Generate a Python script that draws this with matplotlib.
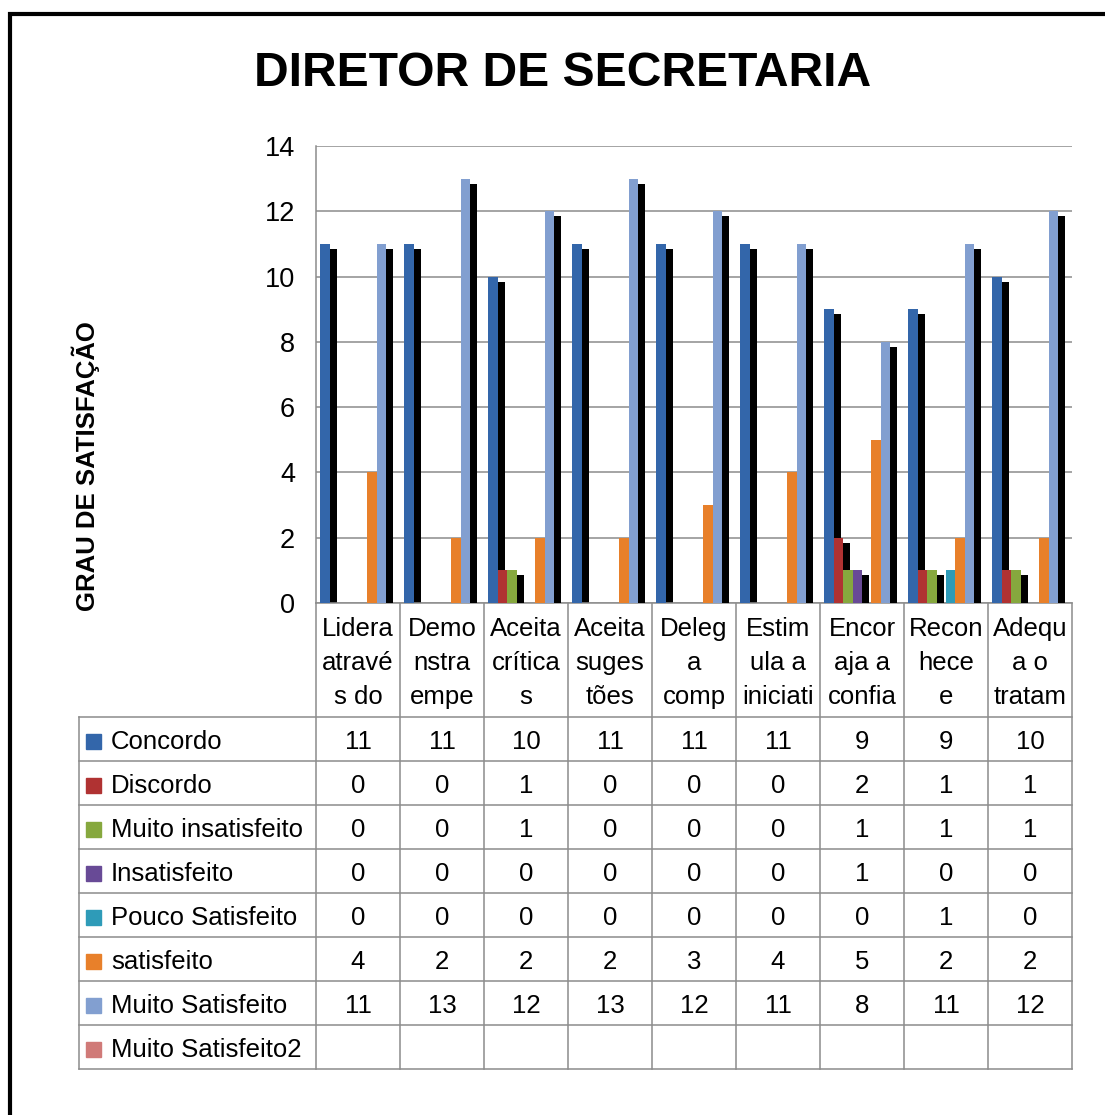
import matplotlib
matplotlib.use('Agg')
import matplotlib.pyplot as plt
from matplotlib.transforms import ScaledTranslation

plt.rcParams['font.family'] = ['Liberation Sans', 'DejaVu Sans']

# dados do grafico
categorias = ['Lidera\natravé\ns do', 'Demo\nnstra\nempe', 'Aceita\ncrítica\ns',
              'Aceita\nsuges\ntões', 'Deleg\na\ncomp', 'Estim\nula a\niniciati',
              'Encor\naja a\nconfia', 'Recon\nhece\ne', 'Adequ\na o\ntratam']
series = ['Concordo', 'Discordo', 'Muito insatisfeito', 'Insatisfeito',
          'Pouco Satisfeito', 'satisfeito', 'Muito Satisfeito', 'Muito Satisfeito2']
concordo = [11, 11, 10, 11, 11, 11, 9, 9, 10]
discordo = [0, 0, 1, 0, 0, 0, 2, 1, 1]
muito_insatisfeito = [0, 0, 1, 0, 0, 0, 1, 1, 1]
insatisfeito = [0, 0, 0, 0, 0, 0, 1, 0, 0]
pouco_satisfeito = [0, 0, 0, 0, 0, 0, 0, 1, 0]
satisfeito = [4, 2, 2, 2, 3, 4, 5, 2, 2]
muito_satisfeito = [11, 13, 12, 13, 12, 11, 8, 11, 12]
muito_satisfeito2 = [None] * 9
valores = [concordo, discordo, muito_insatisfeito, insatisfeito,
           pouco_satisfeito, satisfeito, muito_satisfeito, muito_satisfeito2]
cores = ['#3366aa', '#b03232', '#86a83e', '#684a96', '#2e9bb8', '#e8802a',
         '#829fd0', '#d07a78']
yticks = [0, 2, 4, 6, 8, 10, 12, 14]

W, H = 1105, 1115
fig = plt.figure(figsize=(W / 100, H / 100), dpi=100)

# area do grafico em pixels
px0, px1, py0, py1 = 316, 1072, 146, 603
ax = fig.add_axes([px0 / W, 1 - py1 / H, (px1 - px0) / W, (py1 - py0) / H])
n = len(categorias)
ns = len(series)
larg = 0.9 / ns
sombra = ax.transData + ScaledTranslation(7 / 100, -5 / 100, fig.dpi_scale_trans)
for j, (vals, cor) in enumerate(zip(valores, cores)):
    xs = [i + 0.05 + j * larg for i in range(n)]
    hs = [v if v is not None else 0 for v in vals]
    ax.bar(xs, hs, width=larg, align='edge', color='black', linewidth=0,
           transform=sombra, zorder=2 + 2 * j)
    ax.bar(xs, hs, width=larg, align='edge', color=cor, linewidth=0,
           zorder=3 + 2 * j)
ax.set_xlim(0, n)
ax.set_ylim(0, 14)
ax.set_yticks(yticks)
ax.set_xticks([])
ax.grid(axis='y', color='#8c8c8c', linewidth=1.1, zorder=0.5)
ax.set_axisbelow(True)
for s in ['top', 'right']:
    ax.spines[s].set_visible(False)
for s in ['left', 'bottom']:
    ax.spines[s].set_color('#8c8c8c')
    ax.spines[s].set_linewidth(1.1)
ax.tick_params(axis='y', length=0, pad=15, labelsize=19.5)

# camada de sobreposicao em pixels
ov = fig.add_axes([0, 0, 1, 1], zorder=-1)
ov.set_xlim(0, W)
ov.set_ylim(H, 0)
ov.axis('off')

ov.text(563, 86, 'DIRETOR DE SECRETARIA', ha='center', va='baseline',
        fontsize=34.6, fontweight='bold')
ov.text(86, 466, 'GRAU DE SATISFAÇÃO', ha='center', va='center', rotation=90,
        fontsize=18.5, fontweight='bold')

# borda preta
ov.plot([10, 10, W], [H, 13.5, 13.5], color='black', linewidth=3, solid_joinstyle='miter')

# tabela de dados
cinza = '#8c8c8c'
lw = 1.1
colw = (px1 - px0) / n
tx0 = 79
ty0 = 717
rowh = 44
ty1 = ty0 + rowh * ns
for i in range(n + 1):
    x = px0 + i * colw
    ov.plot([x, x], [py1, ty1], color=cinza, linewidth=lw)
ov.plot([tx0, tx0], [ty0, ty1], color=cinza, linewidth=lw)
for k in range(ns + 1):
    y = ty0 + k * rowh
    ov.plot([tx0, px1], [y, y], color=cinza, linewidth=lw)
for i, cat in enumerate(categorias):
    ov.text(px0 + (i + 0.5) * colw, (py1 + ty0) / 2 + 3, cat, ha='center', va='center',
            fontsize=18.5, linespacing=1.52)
for k, (nome, vals, cor) in enumerate(zip(series, valores, cores)):
    yc = ty0 + (k + 0.5) * rowh
    ov.add_patch(plt.Rectangle((86, yc - 7.5 + 2), 15, 15, color=cor))
    ov.text(111, yc + 3, nome, ha='left', va='center', fontsize=18.5)
    for i, v in enumerate(vals):
        if v is not None:
            ov.text(px0 + (i + 0.5) * colw, yc + 3, str(v), ha='center', va='center',
                    fontsize=18.5)

fig.savefig('out.png', dpi=100)
